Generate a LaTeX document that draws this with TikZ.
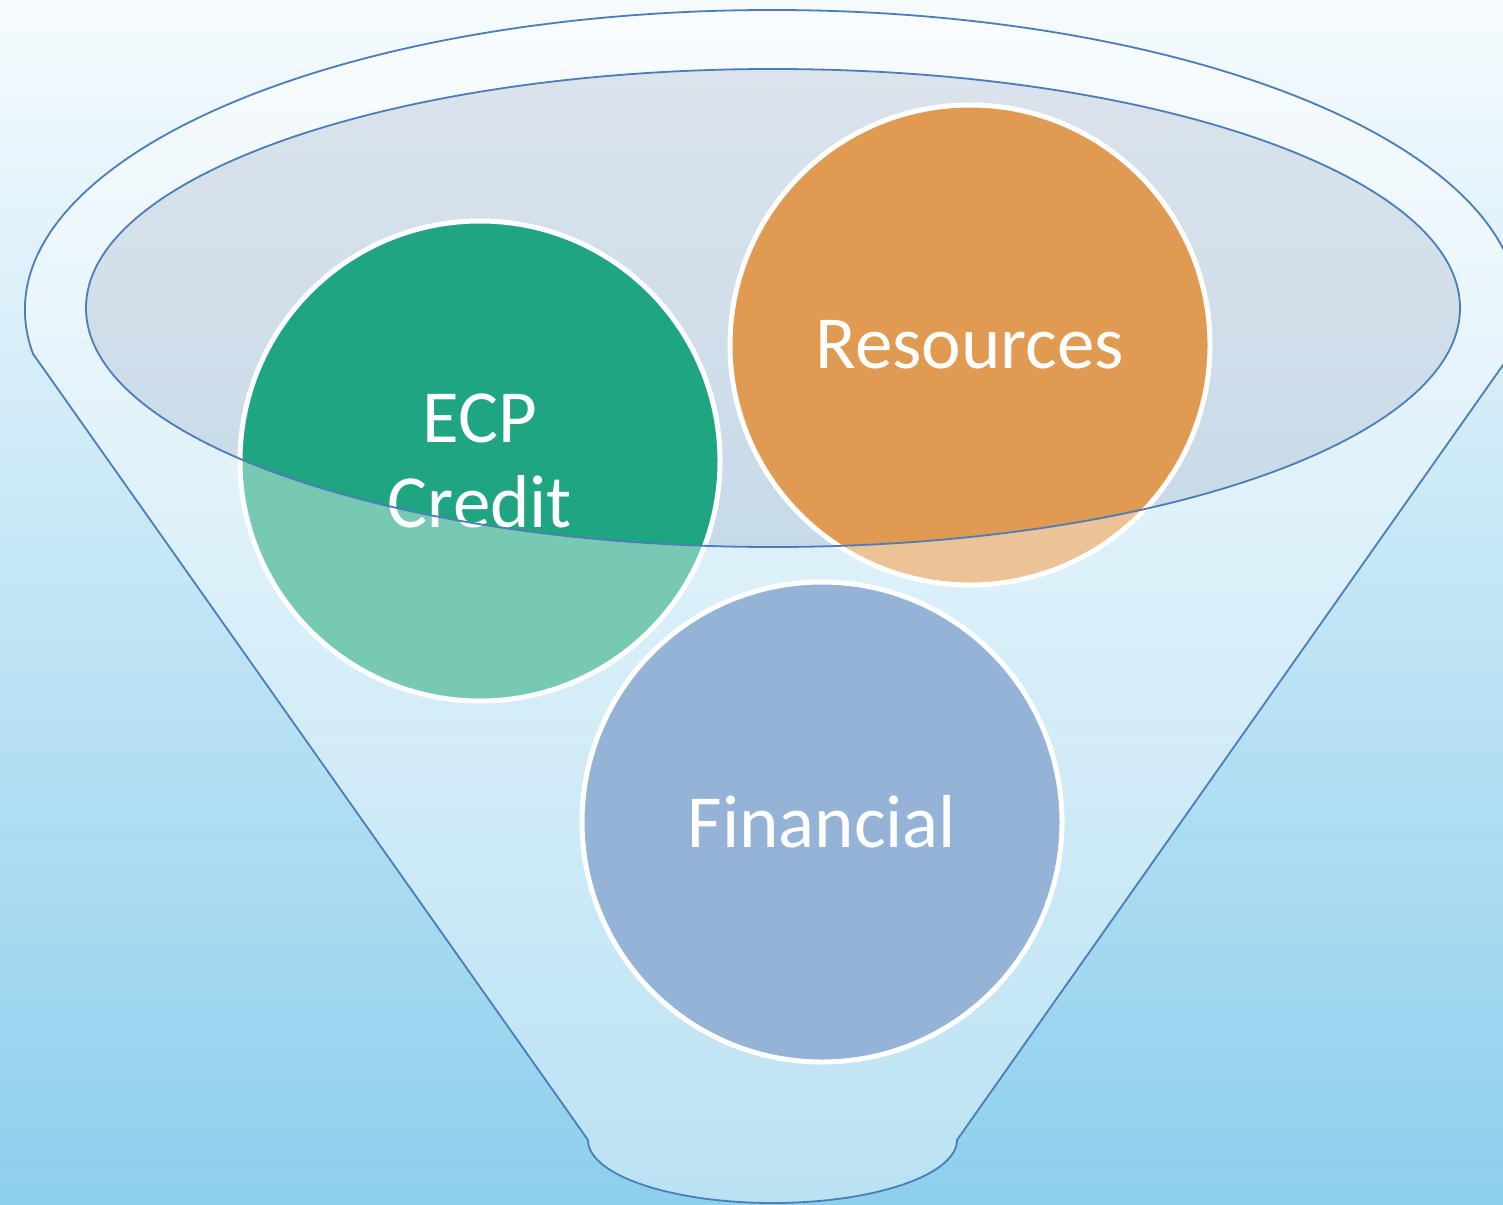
\documentclass[tikz,border=0pt]{standalone}
\usepackage{fontspec}
\setmainfont{Carlito}
\definecolor{skytop}{HTML}{F6FBFE}
\definecolor{skybottom}{HTML}{8DCFEC}
\definecolor{mouthfill}{HTML}{C8CFDC}
\definecolor{rimblue}{HTML}{4A7DBA}
\definecolor{ecpgreen}{HTML}{1FA582}
\definecolor{resorange}{HTML}{E09A52}
\definecolor{finblue}{HTML}{4F81BD}
% the funnel: outer rim, straight sides and rounded spout
\newcommand{\funneloutline}{(33,353.8) arc[start angle=171.6, end angle=368.4, x radius=747, y radius=300]
  -- (957,1140) arc[start angle=0, end angle=180, x radius=184.5, y radius=63] -- cycle}
% the open mouth of the funnel
\newcommand{\funnelmouth}{(773,308) ellipse[x radius=687, y radius=239]}

\begin{document}
\begin{tikzpicture}[
      x=1pt, y=-1pt,
      every node/.style={circle,draw=white,line width=5pt,minimum size=480pt,
        text=white,align=center,font=\fontsize{75}{85}\selectfont},
      rim/.style={draw=rimblue,line width=1.8pt},
      glass/.style={fill=white,opacity=0.4,even odd rule}
    ]

    % background, cut to the picture
    \useasboundingbox (0,0) rectangle (1503,1204);
    \clip (0,0) rectangle (1503,1204);
    \shade[top color=skytop,bottom color=skybottom] (0,0) rectangle (1503,1204);

    % the mouth sits behind the balls
    \fill[mouthfill,opacity=0.5] \funnelmouth;

    % the three balls in the funnel
    \node[fill=ecpgreen] (ecp) at (480,461) {ECP\\Credit};
    \node[fill=resorange] (resources) at (970,345) {Resources};
    \node[fill=finblue] (financial) at (822,822) {Financial};

    % glassy front of the funnel, with the mouth left open
    \fill[glass] \funneloutline \funnelmouth;

    % outlines on top
    \draw[rim] \funneloutline;
    \draw[rim] \funnelmouth;
\end{tikzpicture}
\end{document}
